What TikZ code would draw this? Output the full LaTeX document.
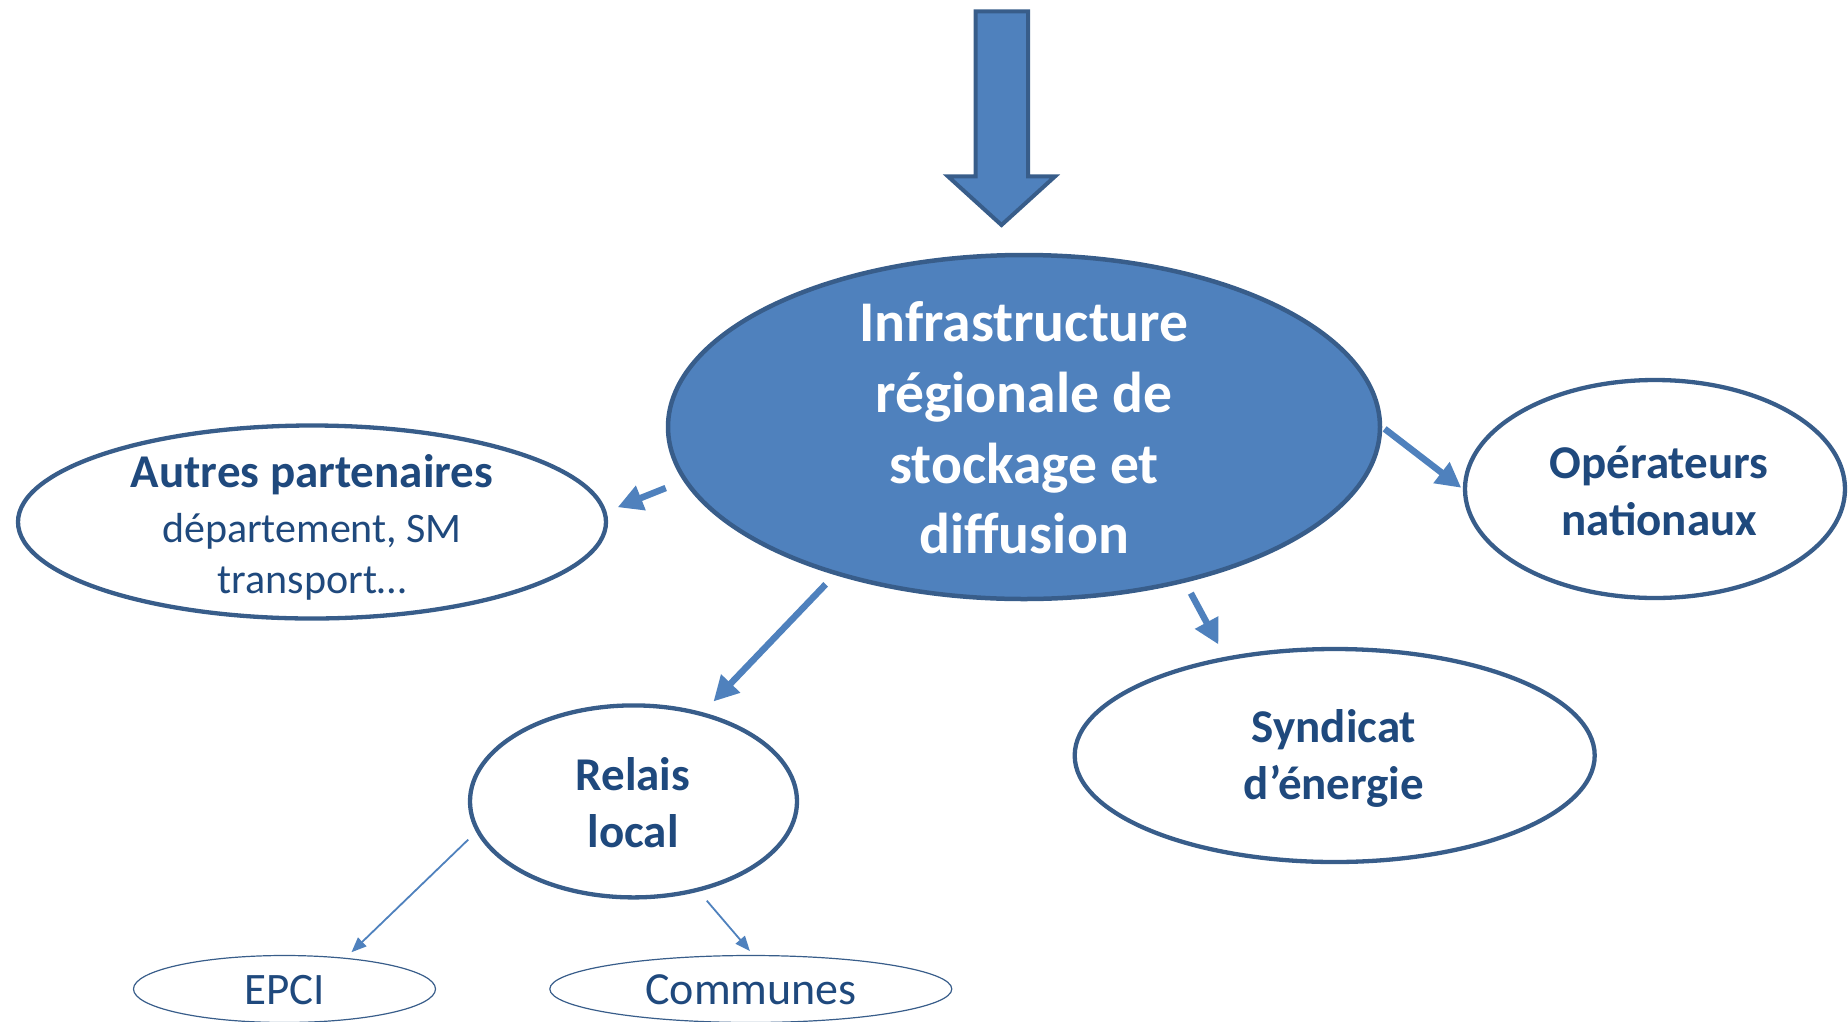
\documentclass[tikz,border=0pt]{standalone}
\usepackage{fontspec}
\setmainfont{Carlito}
\usetikzlibrary{shapes.geometric,arrows.meta}
\definecolor{fillblue}{HTML}{4F81BD}
\definecolor{edgeblue}{HTML}{385D8A}
\definecolor{txtblue}{HTML}{1F497D}
\begin{document}
\begin{tikzpicture}[x=1pt,y=-1pt,
  oval/.style={ellipse, draw=edgeblue, line width=4.3pt, fill=white, inner sep=0pt},
  smalloval/.style={ellipse, draw=edgeblue, line width=1.2pt, inner sep=0pt},
  lbl/.style={text=txtblue, align=center, inner sep=0pt, font=\bfseries\fontsize{47}{57}\selectfont},
  bigarr/.style={draw=fillblue, line width=6.5pt, -{Triangle[length=25pt,width=25pt]}},
  thinarr/.style={draw=fillblue, line width=1.8pt, -{Triangle[length=15pt,width=12pt]}}]
\useasboundingbox (0,0) rectangle (1848,1021);

% top input arrow
\draw[fill=fillblue, draw=edgeblue, line width=4pt, line join=miter]
  (975.5,11.4) -- (1028,11.4) -- (1028,176.4) -- (1055,176.4) -- (1001.5,225) --
  (948,176.4) -- (975.5,176.4) -- cycle;

% nodes
\node[oval, fill=fillblue, line width=4.5pt, minimum width=712pt, minimum height=344pt] (main) at (1024,427) {};
\node[oval, minimum width=588pt, minimum height=193pt] (autres) at (312,522) {};
\node[oval, minimum width=380pt, minimum height=218pt] (oper) at (1655,489) {};
\node[oval, minimum width=520pt, minimum height=213pt] (synd) at (1334.7,755.5) {};
\node[oval, minimum width=327pt, minimum height=192pt] (relais) at (633.5,801.4) {};
\node[smalloval, minimum width=302pt, minimum height=67pt] (epci) at (284.5,989) {};
\node[smalloval, minimum width=402pt, minimum height=67pt] (comm) at (750.8,989) {};

% labels
\node[lbl, text=white, font=\bfseries\fontsize{57.6}{70.7}\selectfont] (mainT) at (1024,428) {Infrastructure\\régionale de\\stockage et\\diffusion};
\node[lbl, font=\fontsize{42}{51}\selectfont] (autresT) at (312,527.5) {{\bfseries\fontsize{47}{55}\selectfont Autres partenaires}\\[4pt]département, SM\\transport…};
\node[lbl] (operT) at (1659,491) {Opérateurs\\nationaux};
\node[lbl] (syndT) at (1334,758) {Syndicat\\d’énergie};
\node[lbl] (relaisT) at (633,803) {Relais\\local};
\node[lbl, font=\fontsize{45}{54}\selectfont] (epciT) at (284.5,990) {EPCI};
\node[lbl, font=\fontsize{46}{55}\selectfont] (commT) at (751,990) {Communes};

% connectors
\draw[bigarr, shorten <=19pt, shorten >=12pt] (main.189) -- (autres.2);
\draw[bigarr, shorten <=3pt, shorten >=2pt] (main.0) -- (oper.180);
\draw[bigarr, shorten <=13pt, shorten >=15pt] (main.218.6) -- (relais.52.5);
\draw[bigarr, shorten <=12pt, shorten >=14pt] (main.316) -- (synd.138);
\draw[thinarr, shorten <=11pt, shorten >=8pt] (relais.191.7) -- (epci.27.7);
\draw[thinarr, shorten <=12pt, shorten >=5pt] (relais.306.3) -- (comm.86.6);
\end{tikzpicture}
\end{document}
